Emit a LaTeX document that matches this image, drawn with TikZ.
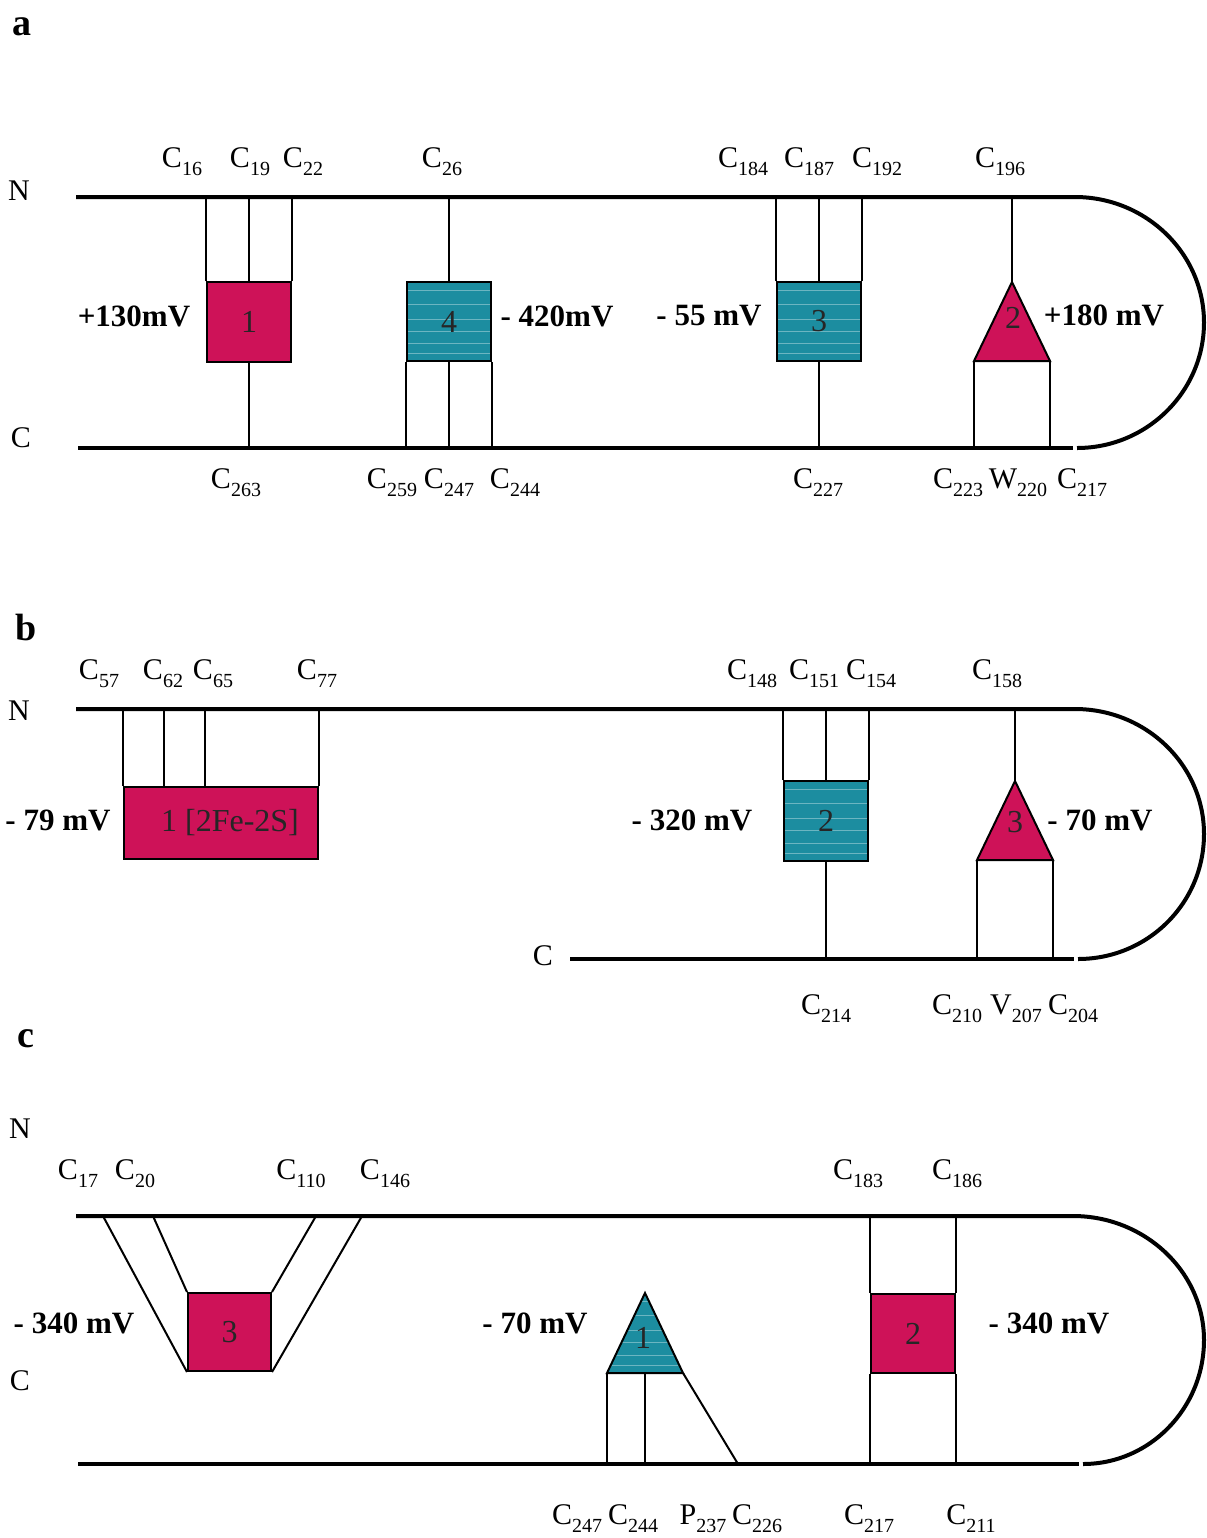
\documentclass[tikz,border=0pt]{standalone}
\usepackage{fontspec}
\setmainfont{Liberation Serif}
\usetikzlibrary{fit,calc}
\definecolor{mag}{RGB}{206,18,88}
\definecolor{tealc}{RGB}{28,141,160}
% residue label: letter with a lowered position number
\newcommand{\res}[2]{#1\raisebox{-4pt}{\fontsize{10}{12}\selectfont #2}}
\tikzset{
  memb/.style={line width=2pt},
  link/.style={line width=1pt},
  magbox/.style={draw=black, line width=1pt, fill=mag, inner sep=0pt},
  stripes/.style={path picture={
    \foreach \f in {0.1,0.28,0.47,0.62,0.78,0.9}{
      \draw[white!35!tealc, line width=0.35pt]
        ($(path picture bounding box.north west)!\f!(path picture bounding box.south west)$) --
        ($(path picture bounding box.north east)!\f!(path picture bounding box.south east)$);}}},
  tealbox/.style={draw=black, line width=1pt, fill=tealc, inner sep=0pt, stripes},
  magtri/.style={draw=black, line width=1pt, fill=mag, line join=miter},
  tealtri/.style={draw=black, line width=1pt, fill=tealc, line join=miter, stripes},
  lab/.style={font=\fontsize{15}{18}\selectfont, inner sep=0pt, anchor=base},
  pot/.style={font=\bfseries\fontsize{15.5}{18}\selectfont, inner sep=0pt, anchor=base},
  num/.style={font=\fontsize{16}{18}\selectfont, text=black!85, inner sep=0pt},
  panel/.style={font=\bfseries\fontsize{19}{22}\selectfont, inner sep=0pt, anchor=base west},
}
\begin{document}
\begin{tikzpicture}[x=0.5pt, y=-0.5pt]
\useasboundingbox (0,0) rectangle (1206,1538);

% ---------------- panel a ----------------
\node[panel] (pa) at (12,35) {a};
\node[lab] (aNl) at (19,200) {N};
\node[lab] (aCl) at (21,447) {C};
\coordinate (aN0) at (76,197);
\coordinate (aN1) at (1075,197);
\coordinate (aR) at (1204,322.5);
\coordinate (aC0) at (78,448);
\coordinate (aC1) at (1073,448);
\coordinate (aC2) at (1077,448);
\draw[memb] (aN0) -- (aN1) .. controls +(71,0) and +(0,-69) .. (aR)
  .. controls +(0,69) and +(70,0) .. (aC2);
\draw[memb] (aC0) -- (aC1);

\node[magbox, fit={(207,282) (291,362)}] (a1) {};
\node[num] (a1n) at (a1.center) {1};
\draw[link] (a1.north west) -- (a1.north west |- aN0);
\draw[link] (a1.north) -- (a1.north |- aN0);
\draw[link] (a1.north east) -- (a1.north east |- aN0);
\draw[link] (a1.south) -- (a1.south |- aC0);

\node[tealbox, fit={(407,282) (491,361)}] (a4) {};
\node[num] (a4n) at (a4.center) {4};
\draw[link] (a4.north) -- (a4.north |- aN0);
\draw[link] (a4.south west) -- (a4.south west |- aC0);
\draw[link] (a4.south) -- (a4.south |- aC0);
\draw[link] (a4.south east) -- (a4.south east |- aC0);

\node[tealbox, fit={(777,282) (861,361)}] (a3) {};
\node[num] (a3n) at (a3.center) {3};
\draw[link] (a3.north west) -- (a3.north west |- aN0);
\draw[link] (a3.north) -- (a3.north |- aN0);
\draw[link] (a3.north east) -- (a3.north east |- aN0);
\draw[link] (a3.south) -- (a3.south |- aC0);

\coordinate (a2t) at (1012,282);
\coordinate (a2l) at (974,361);
\coordinate (a2r) at (1050,361);
\filldraw[magtri] (a2t) -- (a2l) -- (a2r) -- cycle;
\node[num] (a2n) at (1013,318) {2};
\draw[link] (a2t) -- (a2t |- aN0);
\draw[link] (a2l) -- (a2l |- aC0);
\draw[link] (a2r) -- (a2r |- aC0);

\node[lab] (a16) at (182,167) {\res{C}{16}};
\node[lab] (a19) at (250,167) {\res{C}{19}};
\node[lab] (a22) at (303,167) {\res{C}{22}};
\node[lab] (a26) at (442,167) {\res{C}{26}};
\node[lab] (a184) at (743,167) {\res{C}{184}};
\node[lab] (a187) at (809,167) {\res{C}{187}};
\node[lab] (a192) at (877,167) {\res{C}{192}};
\node[lab] (a196) at (1000,167) {\res{C}{196}};
\node[lab] (a263) at (236,488) {\res{C}{263}};
\node[lab] (a259) at (392,488) {\res{C}{259}};
\node[lab] (a247) at (449,488) {\res{C}{247}};
\node[lab] (a244) at (515,488) {\res{C}{244}};
\node[lab] (a227) at (818,488) {\res{C}{227}};
\node[lab] (a223) at (958,488) {\res{C}{223}};
\node[lab] (a220) at (1018,488) {\res{W}{220}};
\node[lab] (a217) at (1082,488) {\res{C}{217}};
\node[pot] (apa) at (134,326) {+130mV};
\node[pot] (apb) at (557,326) {- 420mV};
\node[pot] (apc) at (709,325) {- 55 mV};
\node[pot] (apd) at (1104,325) {+180 mV};

% ---------------- panel b ----------------
\node[panel] (pb) at (15,640) {b};
\node[lab] (bNl) at (19,720) {N};
\node[lab] (bCl) at (543,965) {C};
\coordinate (bN0) at (76,709);
\coordinate (bN1) at (1075,709);
\coordinate (bR) at (1204,834);
\coordinate (bC0) at (570,959);
\coordinate (bC1) at (1074,959);
\coordinate (bC2) at (1078,959);
\draw[memb] (bN0) -- (bN1) .. controls +(71,0) and +(0,-69) .. (bR)
  .. controls +(0,69) and +(70,0) .. (bC2);
\draw[memb] (bC0) -- (bC1);

\node[magbox, fit={(124,787) (318,859)}] (b1) {};
\node[num] (b1n) at (230,823) {1 [2Fe-2S]};
\draw[link] (b1.north west) -- (b1.north west |- bN0);
\draw[link] (b1.north -| 164,0) -- (164,0 |- bN0);
\draw[link] (b1.north -| 205,0) -- (205,0 |- bN0);
\draw[link] (b1.north east) -- (b1.north east |- bN0);

\node[tealbox, fit={(784,781) (868,861)}] (b2) {};
\node[num] (b2n) at (b2.center) {2};
\draw[link] (b2.north west) -- (b2.north west |- bN0);
\draw[link] (b2.north) -- (b2.north |- bN0);
\draw[link] (b2.north east) -- (b2.north east |- bN0);
\draw[link] (b2.south) -- (b2.south |- bC0);

\coordinate (b3t) at (1015,781);
\coordinate (b3l) at (977,860);
\coordinate (b3r) at (1053,860);
\filldraw[magtri] (b3t) -- (b3l) -- (b3r) -- cycle;
\node[num] (b3n) at (1015,822) {3};
\draw[link] (b3t) -- (b3t |- bN0);
\draw[link] (b3l) -- (b3l |- bC0);
\draw[link] (b3r) -- (b3r |- bC0);

\node[lab] (b57) at (99,679) {\res{C}{57}};
\node[lab] (b62) at (163,679) {\res{C}{62}};
\node[lab] (b65) at (213,679) {\res{C}{65}};
\node[lab] (b77) at (317,679) {\res{C}{77}};
\node[lab] (b148) at (752,679) {\res{C}{148}};
\node[lab] (b151) at (814,679) {\res{C}{151}};
\node[lab] (b154) at (871,679) {\res{C}{154}};
\node[lab] (b158) at (997,679) {\res{C}{158}};
\node[lab] (b214) at (826,1014) {\res{C}{214}};
\node[lab] (b210) at (957,1014) {\res{C}{210}};
\node[lab] (b207) at (1016,1014) {\res{V}{207}};
\node[lab] (b204) at (1073,1014) {\res{C}{204}};
\node[pot] (bpa) at (58,830) {- 79 mV};
\node[pot] (bpb) at (692,830) {- 320 mV};
\node[pot] (bpc) at (1100,830) {- 70 mV};

% ---------------- panel c ----------------
\node[panel] (pc) at (17,1047) {c};
\node[lab] (cNl) at (20,1138) {N};
\node[lab] (cCl) at (20,1390) {C};
\coordinate (cN0) at (76,1216);
\coordinate (cN1) at (1073,1216);
\coordinate (cR) at (1204,1340);
\coordinate (cC0) at (78,1464);
\coordinate (cC1) at (1079,1464);
\coordinate (cC2) at (1083,1464);
\draw[memb] (cN0) -- (cN1) .. controls +(72,0) and +(0,-68) .. (cR)
  .. controls +(0,68) and +(67,0) .. (cC2);
\draw[memb] (cC0) -- (cC1);

\node[magbox, fit={(188,1293) (271,1371)}] (c3) {};
\node[num] (c3n) at (c3.center) {3};
\draw[link] (c3.south west) -- (103,0 |- cN0);
\draw[link] (c3.north west) -- (153,0 |- cN0);
\draw[link] (c3.north east) -- (316,0 |- cN0);
\draw[link] (c3.south east) -- (362,0 |- cN0);

\coordinate (c1t) at (645,1293);
\coordinate (c1l) at (607,1373);
\coordinate (c1r) at (683,1373);
\filldraw[tealtri] (c1t) -- (c1l) -- (c1r) -- cycle;
\node[num] (c1n) at (643,1338) {1};
\draw[link] (c1l) -- (c1l |- cC0);
\draw[link] (c1t |- c1l) -- (c1t |- cC0);
\draw[link] (c1r) -- (738,0 |- cC0);

\node[magbox, fit={(871,1294) (955,1373)}] (c2) {};
\node[num] (c2n) at (c2.center) {2};
\draw[link] (c2.north west) -- (c2.north west |- cN0);
\draw[link] (c2.north east) -- (c2.north east |- cN0);
\draw[link] (c2.south west) -- (c2.south west |- cC0);
\draw[link] (c2.south east) -- (c2.south east |- cC0);

\node[lab] (c17) at (78,1179) {\res{C}{17}};
\node[lab] (c20) at (135,1179) {\res{C}{20}};
\node[lab] (c110) at (301,1179) {\res{C}{110}};
\node[lab] (c146) at (385,1179) {\res{C}{146}};
\node[lab] (c183) at (858,1179) {\res{C}{183}};
\node[lab] (c186) at (957,1179) {\res{C}{186}};
\node[lab] (c247) at (577,1524) {\res{C}{247}};
\node[lab] (c244) at (633,1524) {\res{C}{244}};
\node[lab] (c237) at (703,1524) {\res{P}{237}};
\node[lab] (c226) at (757,1524) {\res{C}{226}};
\node[lab] (c217) at (869,1524) {\res{C}{217}};
\node[lab] (c211) at (971,1524) {\res{C}{211}};
\node[pot] (cpa) at (74,1333) {- 340 mV};
\node[pot] (cpb) at (535,1333) {- 70 mV};
\node[pot] (cpc) at (1049,1333) {- 340 mV};
\end{tikzpicture}
\end{document}
